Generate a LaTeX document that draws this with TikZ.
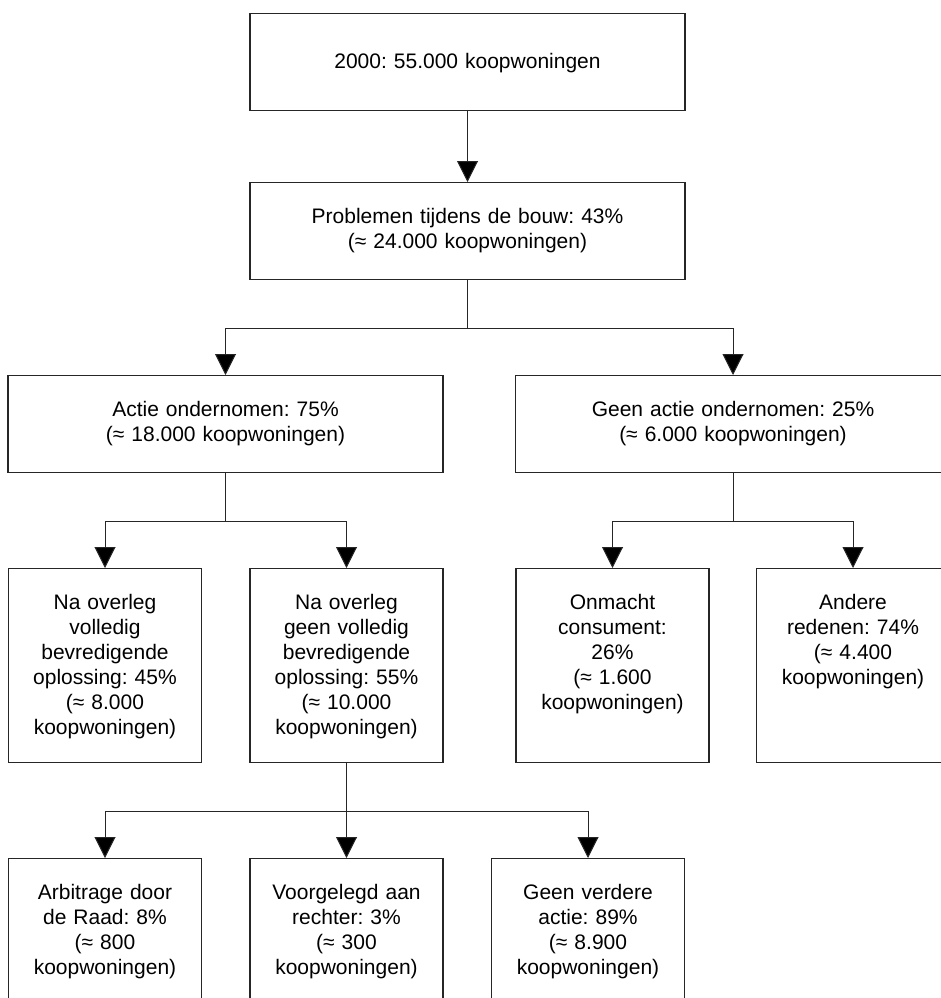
\documentclass[tikz,border=0pt]{standalone}
\usepackage{fontspec}
\setmainfont{Liberation Sans}
\usetikzlibrary{arrows.meta}
\frenchspacing
\begin{document}
\begin{tikzpicture}[x = 1pt, y = -1pt,
  blok/.style = {draw = black!85, line width = 1.3pt, anchor = north, align = center, inner sep = 0pt, font = \fontsize{21}{25}\selectfont, text height = 41pt},
  breed/.style = {blok, text width = 435pt, text depth = 56pt},
  hoog/.style = {blok, text width = 193pt, text depth = 153pt},
  pijl/.style = {draw = black!85, line width = 1pt, -{Triangle[length = 21pt, width = 21pt, fill = black]}}]
\clip (0,0) rectangle (941,998);
\node [breed, text height = 55pt, text depth = 42pt] (totaal) at (467.5,13) {2000: 55.000 koopwoningen};
\node [breed] (problemen) at (467.5,182) {Problemen tijdens de bouw: 43\%\\(≈ 24.000 koopwoningen)};
\node [breed] (actie) at (225.5,375) {Actie ondernomen: 75\%\\(≈ 18.000 koopwoningen)};
\node [breed] (geenactie) at (733,375) {Geen actie ondernomen: 25\%\\(≈ 6.000 koopwoningen)};
\node [hoog] (volledig) at (105,568) {Na overleg\\volledig\\bevredigende\\oplossing: 45\%\\(≈ 8.000\\koopwoningen)};
\node [hoog] (nietvolledig) at (346.5,568) {Na overleg\\geen volledig\\bevredigende\\oplossing: 55\%\\(≈ 10.000\\koopwoningen)};
\node [hoog] (onmacht) at (612.5,568) {Onmacht\\consument:\\26\%\\(≈ 1.600\\koopwoningen)};
\node [hoog] (andere) at (853,568) {Andere\\redenen: 74\%\\(≈ 4.400\\koopwoningen)};
\node [hoog] (arbitrage) at (105,858) {Arbitrage door\\de Raad: 8\%\\(≈ 800\\koopwoningen)};
\node [hoog] (rechter) at (346.5,858) {Voorgelegd aan\\rechter: 3\%\\(≈ 300\\koopwoningen)};
\node [hoog] (geenverdere) at (588,858) {Geen verdere\\actie: 89\%\\(≈ 8.900\\koopwoningen)};
\draw [pijl] (totaal) -- (problemen);
\draw [pijl] (problemen.south) -- ++(0,48) -| (actie.north);
\draw [pijl] (problemen.south) -- ++(0,48) -| (geenactie.north);
\draw [pijl] (actie.south) -- ++(0,48) -| (volledig.north);
\draw [pijl] (actie.south) -- ++(0,48) -| (nietvolledig.north);
\draw [pijl] (geenactie.south) -- ++(0,48) -| (onmacht.north);
\draw [pijl] (geenactie.south) -- ++(0,48) -| (andere.north);
\draw [pijl] (nietvolledig.south) -- ++(0,48) -| (arbitrage.north);
\draw [pijl] (nietvolledig.south) -- (rechter.north);
\draw [pijl] (nietvolledig.south) -- ++(0,48) -| (geenverdere.north);
\end{tikzpicture}
\end{document}
